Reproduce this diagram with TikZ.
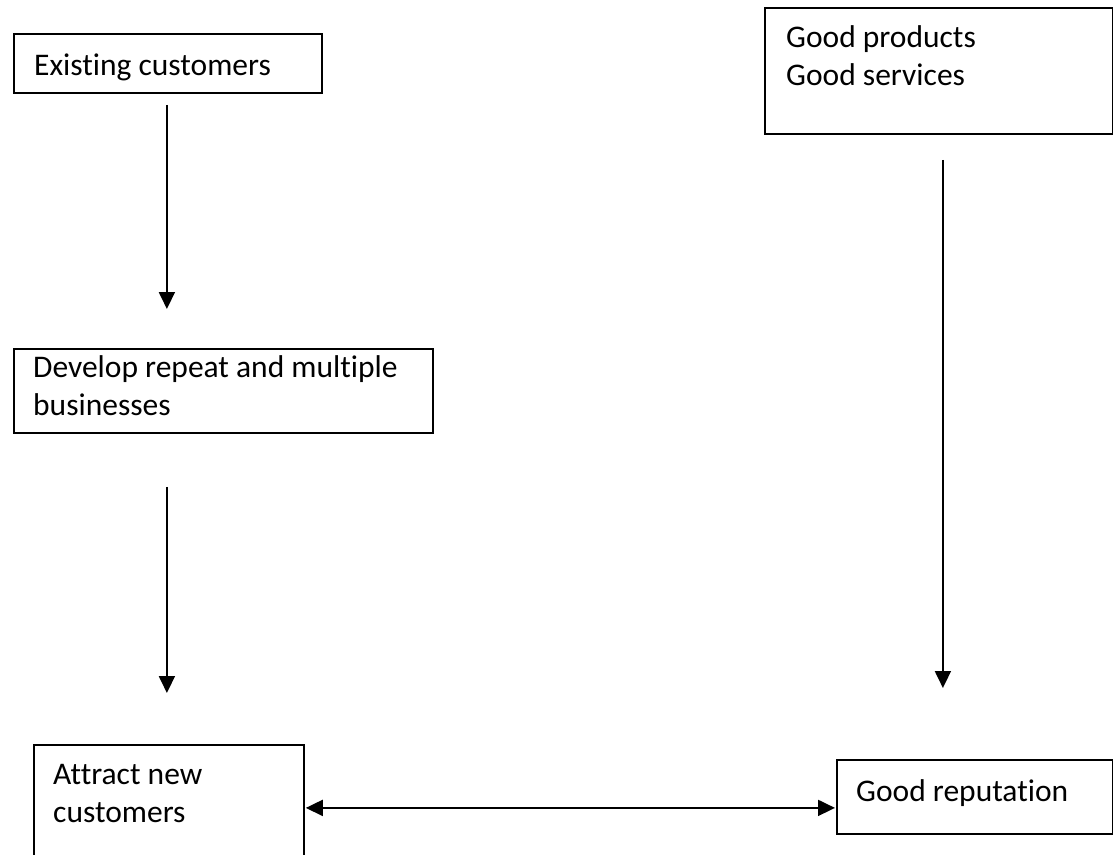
\documentclass[tikz,border=0pt]{standalone}
\usepackage{fontspec}
\setmainfont{Carlito}[Ligatures=NoCommon]
\usetikzlibrary{arrows.meta,calc}
\tikzset{
  box/.style={draw, line width=1.8pt, rectangle, inner sep=0pt, anchor=north west},
  txt/.style={anchor=base west, inner sep=0pt, align=left,
    font=\fontsize{31.5}{38.5}\selectfont},
  tip/.tip={Triangle[width=16pt,length=17pt]},
  arr/.style={line width=1.9pt, -tip},
  darr/.style={line width=1.9pt, tip-tip}
}
\begin{document}
\begin{tikzpicture}[x=1pt,y=-1pt]
\useasboundingbox (0,0) rectangle (1113,854);
\clip (0,0) rectangle (1113,854);
% boxes
\node[box, minimum width=308pt, minimum height=59pt] (b1) at (13,33) {};
\node[box, minimum width=419pt, minimum height=84pt] (b2) at (13,348) {};
\node[box, minimum width=270pt, minimum height=126pt] (b3) at (33,744) {};
\node[box, minimum width=348pt, minimum height=126pt] (b4) at (764,7) {};
\node[box, minimum width=276pt, minimum height=74pt] (b5) at (836,759) {};
% texts
\node[txt] (t1) at (34,75) {Existing customers};
\node[txt] (t2) at (33,377) {Develop repeat and multiple};
\node[txt] (t2b) at (33,415.5) {businesses};
\node[txt] (t3) at (53,784) {Attract new};
\node[txt] (t3b) at (53,822.5) {customers};
\node[txt] (t4) at (786,47) {Good products};
\node[txt] (t4b) at (786,85.5) {Good services};
\node[txt] (t5) at (856,801) {Good reputation};
% connectors
\draw[arr, shorten <=11pt, shorten >=39pt] ([xshift=-1pt]b1.south) -- ([xshift=-1pt]b1.south |- b2.north);
\draw[arr, shorten <=53pt, shorten >=51pt] ([xshift=-1pt]b1.south |- b2.south) -- ([xshift=-1pt]b1.south |- b3.north);
\draw[arr, shorten <=25pt, shorten >=71pt] ([xshift=4pt]b4.south) -- ([xshift=4pt]b4.south |- b5.north);
\draw[darr, shorten <=1pt, shorten >=1pt] (b3.east) -- (b3.east -| b5.west);
\end{tikzpicture}
\end{document}
